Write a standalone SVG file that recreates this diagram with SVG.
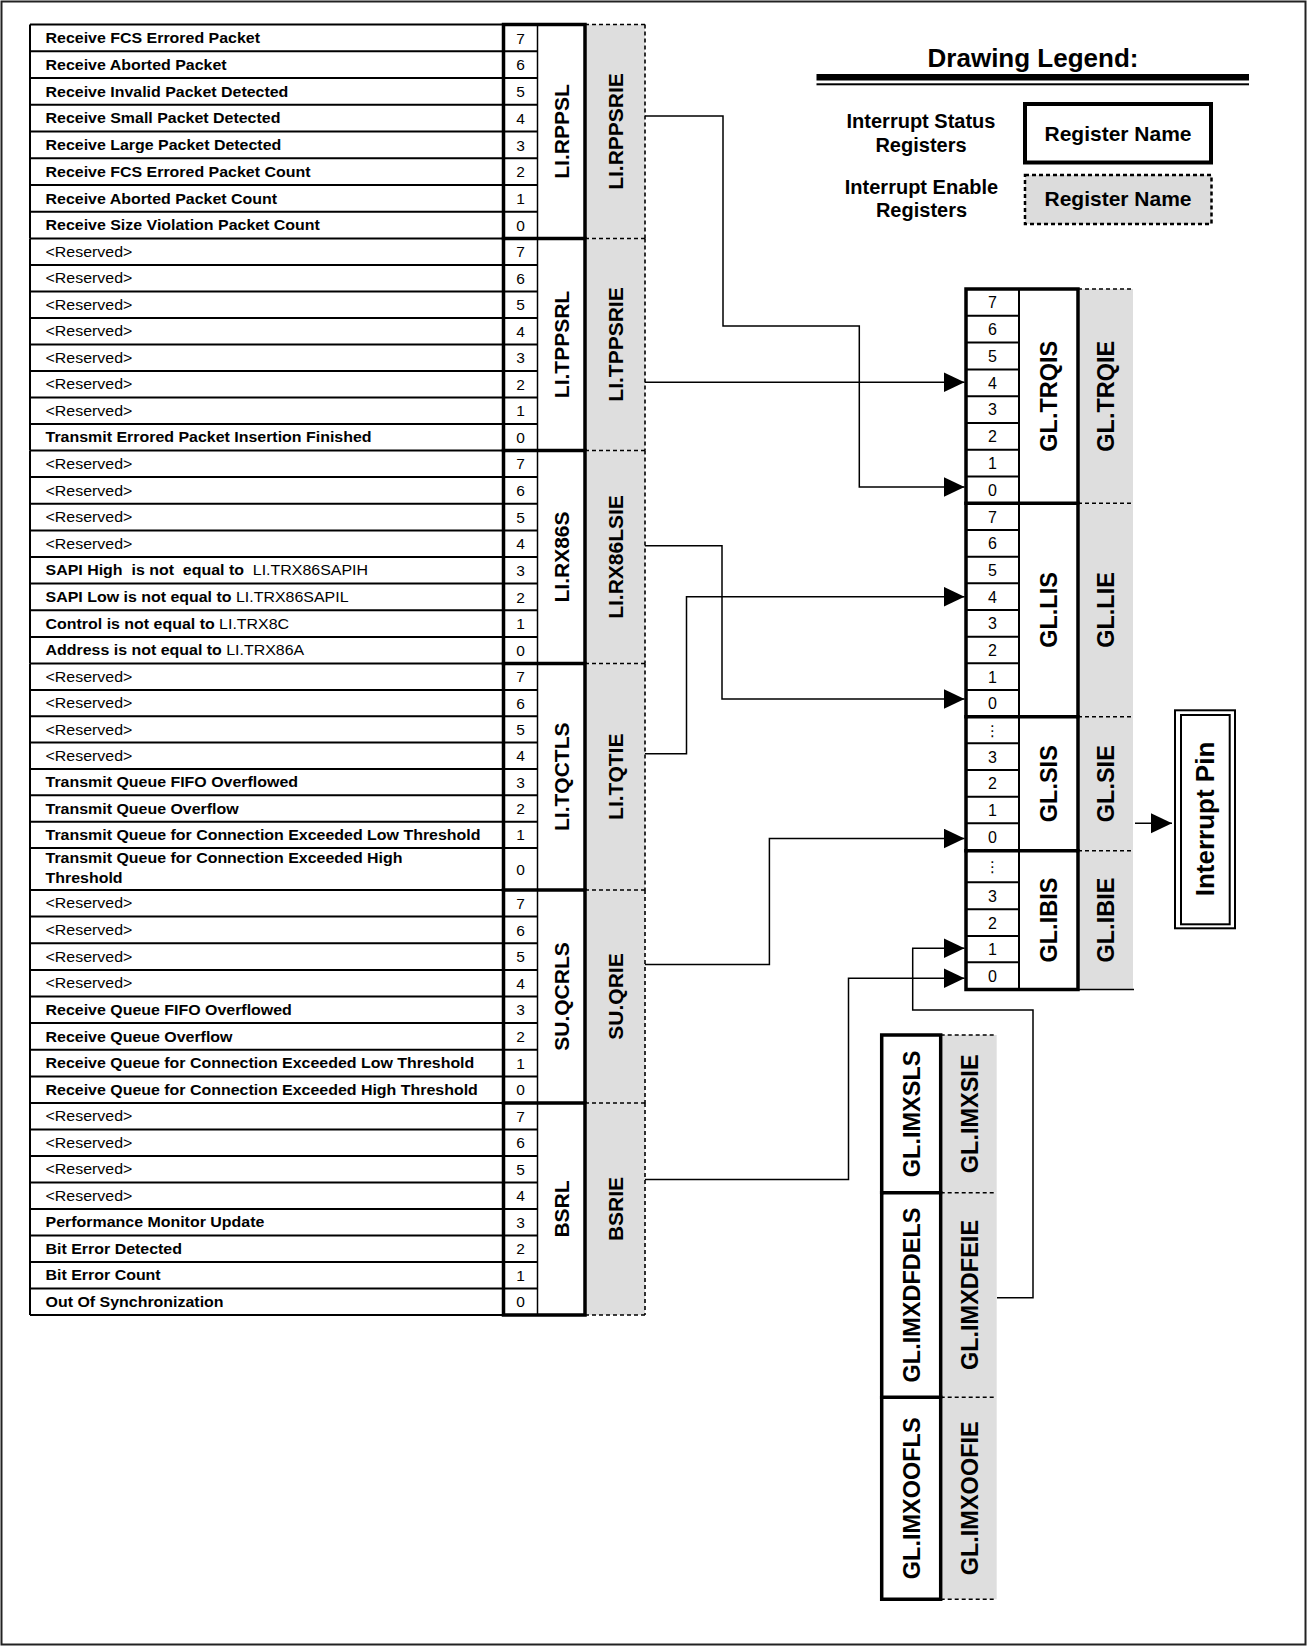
<svg xmlns="http://www.w3.org/2000/svg" width="1309" height="1646" viewBox="0 0 1309 1646">
<defs>
<style>
text{font-family:"Liberation Sans",Arial,"DejaVu Sans",sans-serif;fill:#000}
.ds{font-size:14.5px;font-weight:bold;white-space:pre}
.rs{font-size:14.5px;font-weight:normal}
.n{font-size:15.5px;text-anchor:middle}
.rn{font-size:16px;text-anchor:middle}
.el{font-size:15px;text-anchor:middle;font-family:"DejaVu Sans",sans-serif}
.vl{font-size:21px;font-weight:bold;text-anchor:middle}
.vr{font-size:23.5px;font-weight:bold;text-anchor:middle}
.thin{stroke:#000;stroke-width:2;fill:none}
.hair{stroke:#000;stroke-width:1.5;fill:none}
.thick{stroke:#000;stroke-width:3.5;fill:none;stroke-linecap:square}
.dash{stroke:#000;stroke-width:1.6;stroke-dasharray:4 3;fill:none}
.ie{fill:#dedede}
.conn{stroke:#000;stroke-width:1.5;fill:none}
</style>
<marker id="arr" markerUnits="userSpaceOnUse" markerWidth="22" markerHeight="21" refX="21" refY="10" orient="auto"><path d="M0,0 L21,10 L0,20 Z" fill="#000"/></marker>
</defs>
<rect x="1.5" y="1.5" width="1304" height="1643" fill="#fff" stroke="#222" stroke-width="2"/>

<!-- Group 1 -->
<g id="reg-LI-RPPSL">
<rect class="ie" x="586" y="24.5" width="59" height="214"/>
<path class="thin" d="M30,24.5H503.5 M30,51.25H537.5 M30,78H537.5 M30,104.75H537.5 M30,131.5H537.5 M30,158.25H537.5 M30,185H537.5 M30,211.75H537.5 M30,24.5V238.5"/>
<path class="hair" d="M537.5,24.5V238.5"/>
<path class="thick" d="M503.5,24.5H585 M503.5,24.5V238.5 M585,24.5V238.5"/>
<path class="dash" d="M585,24.5H645 M645,24.5V238.5"/>
<g transform="scale(1.1,1)">
<text class="ds" x="41.4" y="43.1">Receive FCS Errored Packet</text>
<text class="ds" x="41.4" y="69.8">Receive Aborted Packet</text>
<text class="ds" x="41.4" y="96.6">Receive Invalid Packet Detected</text>
<text class="ds" x="41.4" y="123.3">Receive Small Packet Detected</text>
<text class="ds" x="41.4" y="150.1">Receive Large Packet Detected</text>
<text class="ds" x="41.4" y="176.8">Receive FCS Errored Packet Count</text>
<text class="ds" x="41.4" y="203.6">Receive Aborted Packet Count</text>
<text class="ds" x="41.4" y="230.3">Receive Size Violation Packet Count</text>
</g>
<text class="n" x="520.5" y="43.5">7</text><text class="n" x="520.5" y="70.2">6</text><text class="n" x="520.5" y="97">5</text><text class="n" x="520.5" y="123.7">4</text><text class="n" x="520.5" y="150.5">3</text><text class="n" x="520.5" y="177.2">2</text><text class="n" x="520.5" y="204">1</text><text class="n" x="520.5" y="230.7">0</text>
<text class="vl" transform="translate(561,131.5) rotate(-90)" x="0" y="7.5">LI.RPPSL</text>
<text class="vl" transform="translate(615,131.5) rotate(-90)" x="0" y="7.5">LI.RPPSRIE</text>
</g>

<!-- Group 2 -->
<g id="reg-LI-TPPSRL">
<rect class="ie" x="586" y="238.5" width="59" height="212"/>
<path class="thin" d="M30,238.5H503.5 M30,265H537.5 M30,291.5H537.5 M30,318H537.5 M30,344.5H537.5 M30,371H537.5 M30,397.5H537.5 M30,424H537.5 M30,238.5V450.5"/>
<path class="hair" d="M537.5,238.5V450.5"/>
<path class="thick" d="M503.5,238.5H585 M503.5,238.5V450.5 M585,238.5V450.5"/>
<path class="dash" d="M585,238.5H645 M645,238.5V450.5"/>
<g transform="scale(1.1,1)">
<text class="rs" x="41.4" y="257">&lt;Reserved&gt;</text>
<text class="rs" x="41.4" y="283.5">&lt;Reserved&gt;</text>
<text class="rs" x="41.4" y="310">&lt;Reserved&gt;</text>
<text class="rs" x="41.4" y="336.5">&lt;Reserved&gt;</text>
<text class="rs" x="41.4" y="363">&lt;Reserved&gt;</text>
<text class="rs" x="41.4" y="389.5">&lt;Reserved&gt;</text>
<text class="rs" x="41.4" y="416">&lt;Reserved&gt;</text>
<text class="ds" x="41.4" y="442.5">Transmit Errored Packet Insertion Finished</text>
</g>
<text class="n" x="520.5" y="257.4">7</text><text class="n" x="520.5" y="283.9">6</text><text class="n" x="520.5" y="310.4">5</text><text class="n" x="520.5" y="336.9">4</text><text class="n" x="520.5" y="363.4">3</text><text class="n" x="520.5" y="389.9">2</text><text class="n" x="520.5" y="416.4">1</text><text class="n" x="520.5" y="442.9">0</text>
<text class="vl" transform="translate(561,344.5) rotate(-90)" x="0" y="7.5">LI.TPPSRL</text>
<text class="vl" transform="translate(615,344.5) rotate(-90)" x="0" y="7.5">LI.TPPSRIE</text>
</g>

<!-- Group 3 -->
<g id="reg-LI-RX86S">
<rect class="ie" x="586" y="450.5" width="59" height="213"/>
<path class="thin" d="M30,450.5H503.5 M30,477.1H537.5 M30,503.75H537.5 M30,530.4H537.5 M30,557H537.5 M30,583.6H537.5 M30,610.25H537.5 M30,636.9H537.5 M30,450.5V663.5"/>
<path class="hair" d="M537.5,450.5V663.5"/>
<path class="thick" d="M503.5,450.5H585 M503.5,450.5V663.5 M585,450.5V663.5"/>
<path class="dash" d="M585,450.5H645 M645,450.5V663.5"/>
<g transform="scale(1.1,1)">
<text class="rs" x="41.4" y="469">&lt;Reserved&gt;</text>
<text class="rs" x="41.4" y="495.6">&lt;Reserved&gt;</text>
<text class="rs" x="41.4" y="522.3">&lt;Reserved&gt;</text>
<text class="rs" x="41.4" y="548.9">&lt;Reserved&gt;</text>
<text class="ds" x="41.4" y="575.5">SAPI High  is not  equal to  <tspan font-weight="normal">LI.TRX86SAPIH</tspan></text>
<text class="ds" x="41.4" y="602.1">SAPI Low is not equal to <tspan font-weight="normal">LI.TRX86SAPIL</tspan></text>
<text class="ds" x="41.4" y="628.8">Control is not equal to <tspan font-weight="normal">LI.TRX8C</tspan></text>
<text class="ds" x="41.4" y="655.4">Address is not equal to <tspan font-weight="normal">LI.TRX86A</tspan></text>
</g>
<text class="n" x="520.5" y="469.4">7</text><text class="n" x="520.5" y="496">6</text><text class="n" x="520.5" y="522.7">5</text><text class="n" x="520.5" y="549.3">4</text><text class="n" x="520.5" y="575.9">3</text><text class="n" x="520.5" y="602.5">2</text><text class="n" x="520.5" y="629.2">1</text><text class="n" x="520.5" y="655.8">0</text>
<text class="vl" transform="translate(561,557) rotate(-90)" x="0" y="7.5">LI.RX86S</text>
<text class="vl" transform="translate(615,557) rotate(-90)" x="0" y="7.5">LI.RX86LSIE</text>
</g>

<!-- Group 4 -->
<g id="reg-LI-TQCTLS">
<rect class="ie" x="586" y="663.5" width="59" height="226.5"/>
<path class="thin" d="M30,663.5H503.5 M30,689.9H537.5 M30,716.2H537.5 M30,742.6H537.5 M30,768.9H537.5 M30,795.3H537.5 M30,821.7H537.5 M30,848H537.5 M30,663.5V890"/>
<path class="hair" d="M537.5,663.5V890"/>
<path class="thick" d="M503.5,663.5H585 M503.5,663.5V890 M585,663.5V890"/>
<path class="dash" d="M585,663.5H645 M645,663.5V890"/>
<g transform="scale(1.1,1)">
<text class="rs" x="41.4" y="681.9">&lt;Reserved&gt;</text>
<text class="rs" x="41.4" y="708.2">&lt;Reserved&gt;</text>
<text class="rs" x="41.4" y="734.6">&lt;Reserved&gt;</text>
<text class="rs" x="41.4" y="761">&lt;Reserved&gt;</text>
<text class="ds" x="41.4" y="787.3">Transmit Queue FIFO Overflowed</text>
<text class="ds" x="41.4" y="813.7">Transmit Queue Overflow</text>
<text class="ds" x="41.4" y="840">Transmit Queue for Connection Exceeded Low Threshold</text>
<text class="ds" x="41.4" y="863.5">Transmit Queue for Connection Exceeded High</text>
<text class="ds" x="41.4" y="883.5">Threshold</text>
</g>
<text class="n" x="520.5" y="682.3">7</text><text class="n" x="520.5" y="708.6">6</text><text class="n" x="520.5" y="735">5</text><text class="n" x="520.5" y="761.4">4</text><text class="n" x="520.5" y="787.7">3</text><text class="n" x="520.5" y="814.1">2</text><text class="n" x="520.5" y="840.4">1</text><text class="n" x="520.5" y="874.6">0</text>
<text class="vl" transform="translate(561,776.75) rotate(-90)" x="0" y="7.5">LI.TQCTLS</text>
<text class="vl" transform="translate(615,776.75) rotate(-90)" x="0" y="7.5">LI.TQTIE</text>
</g>

<!-- Group 5 -->
<g id="reg-SU-QCRLS">
<rect class="ie" x="586" y="890" width="59" height="213"/>
<path class="thin" d="M30,890H503.5 M30,916.6H537.5 M30,943.25H537.5 M30,969.9H537.5 M30,996.5H537.5 M30,1023.1H537.5 M30,1049.75H537.5 M30,1076.4H537.5 M30,890V1103"/>
<path class="hair" d="M537.5,890V1103"/>
<path class="thick" d="M503.5,890H585 M503.5,890V1103 M585,890V1103"/>
<path class="dash" d="M585,890H645 M645,890V1103"/>
<g transform="scale(1.1,1)">
<text class="rs" x="41.4" y="908.5">&lt;Reserved&gt;</text>
<text class="rs" x="41.4" y="935.1">&lt;Reserved&gt;</text>
<text class="rs" x="41.4" y="961.8">&lt;Reserved&gt;</text>
<text class="rs" x="41.4" y="988.4">&lt;Reserved&gt;</text>
<text class="ds" x="41.4" y="1015">Receive Queue FIFO Overflowed</text>
<text class="ds" x="41.4" y="1041.6">Receive Queue Overflow</text>
<text class="ds" x="41.4" y="1068.3">Receive Queue for Connection Exceeded Low Threshold</text>
<text class="ds" x="41.4" y="1094.9">Receive Queue for Connection Exceeded High Threshold</text>
</g>
<text class="n" x="520.5" y="908.9">7</text><text class="n" x="520.5" y="935.5">6</text><text class="n" x="520.5" y="962.2">5</text><text class="n" x="520.5" y="988.8">4</text><text class="n" x="520.5" y="1015.4">3</text><text class="n" x="520.5" y="1042">2</text><text class="n" x="520.5" y="1068.7">1</text><text class="n" x="520.5" y="1095.3">0</text>
<text class="vl" transform="translate(561,996.5) rotate(-90)" x="0" y="7.5">SU.QCRLS</text>
<text class="vl" transform="translate(615,996.5) rotate(-90)" x="0" y="7.5">SU.QRIE</text>
</g>

<!-- Group 6 -->
<g id="reg-BSRL">
<rect class="ie" x="586" y="1103" width="59" height="212"/>
<path class="thin" d="M30,1103H503.5 M30,1129.5H537.5 M30,1156H537.5 M30,1182.5H537.5 M30,1209H537.5 M30,1235.5H537.5 M30,1262H537.5 M30,1288.5H537.5 M30,1315H503.5 M503.5,1315H537.5 M30,1103V1315"/>
<path class="hair" d="M537.5,1103V1315"/>
<path class="thick" d="M503.5,1103H585 M503.5,1103V1315 M585,1103V1315 M503.5,1315H585"/>
<path class="dash" d="M585,1103H645 M645,1103V1315 M585,1315H645"/>
<g transform="scale(1.1,1)">
<text class="rs" x="41.4" y="1121.5">&lt;Reserved&gt;</text>
<text class="rs" x="41.4" y="1148">&lt;Reserved&gt;</text>
<text class="rs" x="41.4" y="1174.5">&lt;Reserved&gt;</text>
<text class="rs" x="41.4" y="1201">&lt;Reserved&gt;</text>
<text class="ds" x="41.4" y="1227.5">Performance Monitor Update</text>
<text class="ds" x="41.4" y="1254">Bit Error Detected</text>
<text class="ds" x="41.4" y="1280.5">Bit Error Count</text>
<text class="ds" x="41.4" y="1307">Out Of Synchronization</text>
</g>
<text class="n" x="520.5" y="1121.9">7</text><text class="n" x="520.5" y="1148.4">6</text><text class="n" x="520.5" y="1174.9">5</text><text class="n" x="520.5" y="1201.4">4</text><text class="n" x="520.5" y="1227.9">3</text><text class="n" x="520.5" y="1254.4">2</text><text class="n" x="520.5" y="1280.9">1</text><text class="n" x="520.5" y="1307.4">0</text>
<text class="vl" transform="translate(561,1209) rotate(-90)" x="0" y="7.5">BSRL</text>
<text class="vl" transform="translate(615,1209) rotate(-90)" x="0" y="7.5">BSRIE</text>
</g>

<!-- Legend -->
<g id="legend">
<text x="1033" y="67" font-size="26" font-weight="bold" text-anchor="middle">Drawing Legend:</text>
<rect x="816.5" y="74" width="432.5" height="6.5" fill="#000"/>
<rect x="816.5" y="83.3" width="432.5" height="2" fill="#000"/>
<text x="921" y="127.5" font-size="20" font-weight="bold" text-anchor="middle">Interrupt Status</text>
<text x="921" y="151.5" font-size="20" font-weight="bold" text-anchor="middle">Registers</text>
<text x="921.5" y="193.5" font-size="20" font-weight="bold" text-anchor="middle">Interrupt Enable</text>
<text x="921.5" y="217" font-size="20" font-weight="bold" text-anchor="middle">Registers</text>
<rect x="1025" y="104" width="186" height="58.5" fill="#fff" stroke="#000" stroke-width="4"/>
<text x="1118" y="140.5" font-size="21" font-weight="bold" text-anchor="middle">Register Name</text>
<rect x="1025" y="175" width="186.5" height="49" fill="#dcdcdc" stroke="#000" stroke-width="2.5" stroke-dasharray="4 3"/>
<text x="1118" y="206" font-size="21" font-weight="bold" text-anchor="middle">Register Name</text>
</g>

<!-- GL.TRQIS -->
<g id="reg-GL-TRQIS">
<rect class="ie" x="1079.5" y="289" width="53.5" height="214.3"/>
<path class="thin" d="M966,315.8H1019 M966,342.6H1019 M966,369.4H1019 M966,396.2H1019 M966,422.9H1019 M966,449.7H1019 M966,476.5H1019 M1019,289V503.3"/>
<path class="thick" d="M966,289H1078 M966,289V503.3 M1078,289V503.3"/>
<path class="dash" d="M1078,289H1133"/>
<text class="rn" x="992.5" y="308.2">7</text><text class="rn" x="992.5" y="335">6</text><text class="rn" x="992.5" y="361.8">5</text><text class="rn" x="992.5" y="388.6">4</text><text class="rn" x="992.5" y="415.3">3</text><text class="rn" x="992.5" y="442.1">2</text><text class="rn" x="992.5" y="468.9">1</text><text class="rn" x="992.5" y="495.7">0</text>
<text class="vr" transform="translate(1048.5,396.2) rotate(-90)" x="0" y="8.4">GL.TRQIS</text>
<text class="vr" transform="translate(1105.5,396.2) rotate(-90)" x="0" y="8.4">GL.TRQIE</text>
</g>

<!-- GL.LIS -->
<g id="reg-GL-LIS">
<rect class="ie" x="1079.5" y="503.3" width="53.5" height="213.4"/>
<path class="thin" d="M966,530H1019 M966,556.7H1019 M966,583.3H1019 M966,610H1019 M966,636.7H1019 M966,663.3H1019 M966,690H1019 M1019,503.3V716.7"/>
<path class="thick" d="M966,503.3H1078 M966,503.3V716.7 M1078,503.3V716.7"/>
<path class="dash" d="M1078,503.3H1133"/>
<text class="rn" x="992.5" y="522.5">7</text><text class="rn" x="992.5" y="549.1">6</text><text class="rn" x="992.5" y="575.8">5</text><text class="rn" x="992.5" y="602.5">4</text><text class="rn" x="992.5" y="629.1">3</text><text class="rn" x="992.5" y="655.8">2</text><text class="rn" x="992.5" y="682.5">1</text><text class="rn" x="992.5" y="709.1">0</text>
<text class="vr" transform="translate(1048.5,610) rotate(-90)" x="0" y="8.4">GL.LIS</text>
<text class="vr" transform="translate(1105.5,610) rotate(-90)" x="0" y="8.4">GL.LIE</text>
</g>

<!-- GL.SIS -->
<g id="reg-GL-SIS">
<rect class="ie" x="1079.5" y="716.7" width="53.5" height="134"/>
<path class="thin" d="M966,743.3H1019 M966,770H1019 M966,796.7H1019 M966,823.3H1019 M1019,716.7V850.7"/>
<path class="thick" d="M966,716.7H1078 M966,716.7V850.7 M1078,716.7V850.7"/>
<path class="dash" d="M1078,716.7H1133"/>
<text class="el" x="992.5" y="735.5">⋮</text><text class="rn" x="992.5" y="762.5">3</text><text class="rn" x="992.5" y="789.1">2</text><text class="rn" x="992.5" y="815.8">1</text><text class="rn" x="992.5" y="842.8">0</text>
<text class="vr" transform="translate(1048.5,783.7) rotate(-90)" x="0" y="8.4">GL.SIS</text>
<text class="vr" transform="translate(1105.5,783.7) rotate(-90)" x="0" y="8.4">GL.SIE</text>
</g>

<!-- GL.IBIS -->
<g id="reg-GL-IBIS">
<rect class="ie" x="1079.5" y="850.7" width="53.5" height="138.8"/>
<path class="thin" d="M966,882.3H1019 M966,909.3H1019 M966,936H1019 M966,962.3H1019 M1019,850.7V989.5"/>
<path class="thick" d="M966,850.7H1078 M966,850.7V989.5 M1078,850.7V989.5 M966,989.5H1078"/>
<path class="dash" d="M1078,850.7H1133"/>
<path class="hair" d="M1078,989.5H1134"/>
<text class="el" x="992.5" y="872">⋮</text><text class="rn" x="992.5" y="901.6">3</text><text class="rn" x="992.5" y="928.5">2</text><text class="rn" x="992.5" y="955">1</text><text class="rn" x="992.5" y="981.7">0</text>
<text class="vr" transform="translate(1048.5,920.1) rotate(-90)" x="0" y="8.4">GL.IBIS</text>
<text class="vr" transform="translate(1105.5,920.1) rotate(-90)" x="0" y="8.4">GL.IBIE</text>
</g>

<!-- Interrupt Pin -->
<g id="interrupt-pin">
<rect x="1175" y="710.3" width="60" height="218" fill="#fff" stroke="#000" stroke-width="2"/>
<rect x="1181" y="715" width="48.7" height="209.3" fill="none" stroke="#000" stroke-width="2"/>
<text transform="translate(1205,819) rotate(-90)" x="0" y="9.3" font-size="26" font-weight="bold" text-anchor="middle">Interrupt Pin</text>
</g>

<!-- IMX blocks -->
<g id="reg-GL-IMXSLS">
<rect class="ie" x="942.5" y="1035" width="54.2" height="157.7"/>
<path class="thick" d="M881.7,1035H940.7 M881.7,1035V1192.7 M940.7,1035V1192.7"/>
<path class="dash" d="M940.7,1035H996.7"/>
<text class="vr" transform="translate(911.2,1113.85) rotate(-90)" x="0" y="8.4">GL.IMXSLS</text>
<text class="vr" transform="translate(970,1113.85) rotate(-90)" x="0" y="8.4">GL.IMXSIE</text>
</g>
<g id="reg-GL-IMXDFDELS">
<rect class="ie" x="942.5" y="1192.7" width="54.2" height="204.6"/>
<path class="thick" d="M881.7,1192.7H940.7 M881.7,1192.7V1397.3 M940.7,1192.7V1397.3"/>
<path class="dash" d="M940.7,1192.7H996.7"/>
<text class="vr" transform="translate(911.2,1295) rotate(-90)" x="0" y="8.4">GL.IMXDFDELS</text>
<text class="vr" transform="translate(970,1295) rotate(-90)" x="0" y="8.4">GL.IMXDFEIE</text>
</g>
<g id="reg-GL-IMXOOFLS">
<rect class="ie" x="942.5" y="1397.3" width="54.2" height="202"/>
<path class="thick" d="M881.7,1397.3H940.7 M881.7,1397.3V1599.3 M940.7,1397.3V1599.3 M881.7,1599.3H940.7"/>
<path class="dash" d="M940.7,1397.3H996.7 M940.7,1599.3H996.7"/>
<text class="vr" transform="translate(911.2,1498.3) rotate(-90)" x="0" y="8.4">GL.IMXOOFLS</text>
<text class="vr" transform="translate(970,1498.3) rotate(-90)" x="0" y="8.4">GL.IMXOOFIE</text>
</g>

<!-- Connectors -->
<g id="connectors">
<path class="conn" marker-end="url(#arr)" d="M645,116H723V326H859.3V487H964.5"/>
<path class="conn" marker-end="url(#arr)" d="M645,382.3H964.5"/>
<path class="conn" marker-end="url(#arr)" d="M645,545.8H722V699H964.5"/>
<path class="conn" marker-end="url(#arr)" d="M645,753.7H686.5V596.7H964.5"/>
<path class="conn" marker-end="url(#arr)" d="M645,964.5H769.4V838.5H964.5"/>
<path class="conn" marker-end="url(#arr)" d="M645,1179.5H848.5V978.3H964.5"/>
<path class="conn" marker-end="url(#arr)" d="M997,1297.7H1033V1010H912.7V948.3H964.5"/>
<path class="conn" marker-end="url(#arr)" d="M1135,823.3H1172"/>
</g>
</svg>
